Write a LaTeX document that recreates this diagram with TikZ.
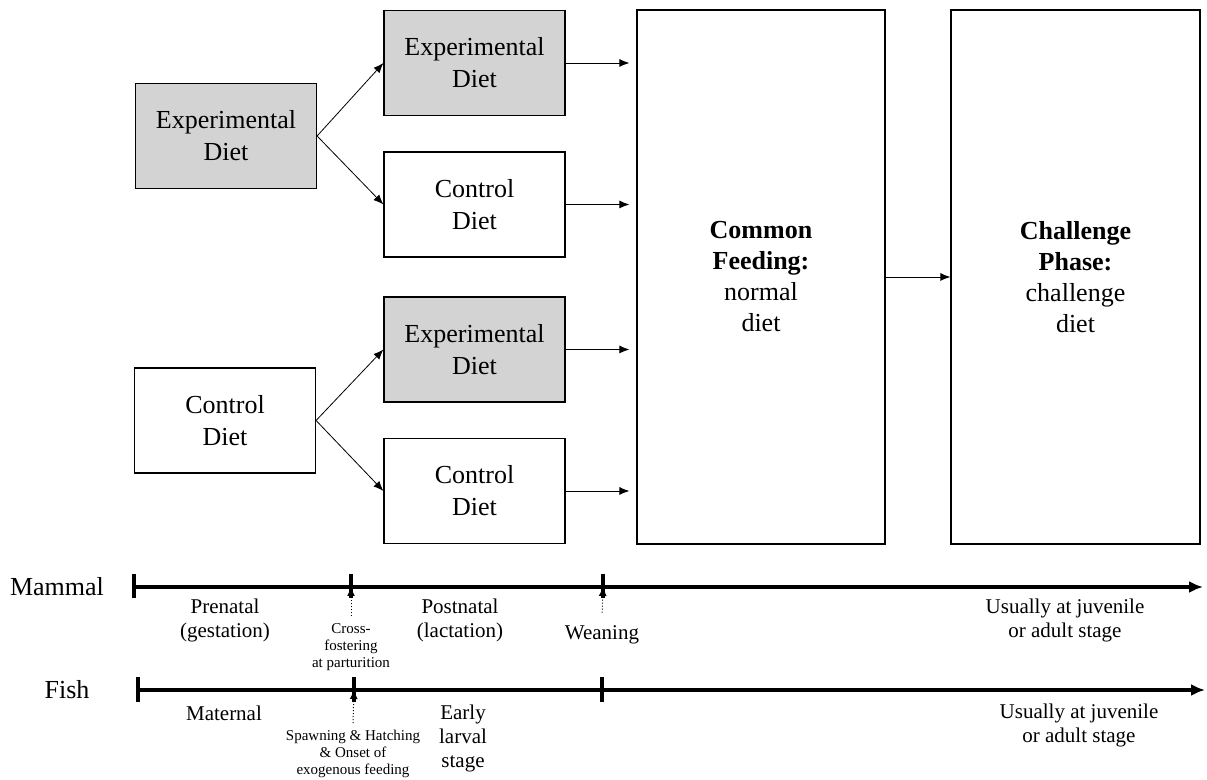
\documentclass[tikz,border=0pt]{standalone}
\usepackage{fontspec}
\setmainfont{Liberation Serif}
\usetikzlibrary{arrows.meta, positioning, calc}
\definecolor{DietGray}{HTML}{D3D3D3}

\begin{document}
\begin{tikzpicture}[x=0.5pt, y=-0.5pt, >={Latex[length=5pt,width=4pt]},
  dietbox/.style={draw, line width=0.6pt, minimum width=90.5pt, minimum height=52.5pt,
    inner sep=0pt, align=center, font=\fontsize{13}{16}\selectfont},
  expbox/.style={dietbox, fill=DietGray},
  phasebox/.style={draw, line width=0.6pt, minimum width=124pt, minimum height=267pt,
    align=center, font=\fontsize{13}{15.5}\selectfont},
  timeline/.style={line width=1.6pt, -{Latex[length=7pt,width=6pt]}},
  tickmark/.style={line width=1.6pt},
  eventarrow/.style={densely dotted, line width=0.5pt, -{Latex[length=4.5pt,width=4pt]}},
  species/.style={font=\fontsize{13}{16}\selectfont},
  stagelabel/.style={align=center, font=\fontsize{10.5}{12}\selectfont},
  eventlabel/.style={align=center, font=\fontsize{7.5}{8.5}\selectfont}]
  \useasboundingbox (0,0) rectangle (1207,780);

  % Maternal diets
  \node[expbox] (damexp) at (226,136) {Experimental\\Diet};
  \node[dietbox] (damctl) at (225,420.5) {Control\\Diet};
  % Offspring diets after cross-fostering
  \node[expbox] (pupexpA) at (474.5,63) {Experimental\\Diet};
  \node[dietbox] (pupctlA) at (474.5,204.5) {Control\\Diet};
  \node[expbox] (pupexpB) at (474.5,349.5) {Experimental\\Diet};
  \node[dietbox] (pupctlB) at (474.5,491) {Control\\Diet};
  % Later phases
  \node[phasebox] (common) at (761,277) {\textbf{Common}\\\textbf{Feeding:}\\normal\\diet};
  \node[phasebox, minimum width=124.5pt] (challenge) at (1075.5,277)
    {\textbf{Challenge}\\\textbf{Phase:}\\challenge\\diet};

  % Connectors
  \draw[->] (damexp.east) -- (pupexpA.west);
  \draw[->] (damexp.east) -- (pupctlA.west);
  \draw[->] (damctl.east) -- (pupexpB.west);
  \draw[->] (damctl.east) -- (pupctlB.west);
  \foreach \n in {pupexpA, pupctlA, pupexpB, pupctlB}
    \draw[->, shorten >=3.5pt] (\n.east) -- (\n.east -| common.west);
  \draw[->] (common.east) -- (challenge.west);

  % Mammal timeline
  \node[species] (mammal) at (57,587) {Mammal};
  \coordinate (mstart) at (134,587);
  \coordinate (mend) at (1203,587);
  \coordinate (mcross) at (351,587);
  \coordinate (mwean) at (603,587);
  \draw[timeline] (mstart) -- (mend);
  \foreach \x in {134,351,603}
    \draw[tickmark] (\x,574) -- (\x,598);
  \node[stagelabel] (prenatal) at (225,620) {Prenatal\\(gestation)};
  \node[eventlabel] (crossfoster) at (351,647) {Cross-\\fostering\\at parturition};
  \node[stagelabel] (postnatal) at (460,620) {Postnatal\\(lactation)};
  \node[stagelabel] (weaning) at (602,635) {Weaning};
  \node[stagelabel] (mjuvenile) at (1065,620) {Usually at juvenile\\or adult stage};
  \draw[eventarrow] (crossfoster.north) -- (mcross);
  \draw[eventarrow, shorten <=3pt] (weaning.north) -- (mwean);

  % Fish timeline
  \node[species] (fish) at (67,690) {Fish};
  \coordinate (fstart) at (138,690);
  \coordinate (fend) at (1205,690);
  \coordinate (fhatch) at (354,690);
  \draw[timeline] (fstart) -- (fend);
  \foreach \x in {138,354,602}
    \draw[tickmark] (\x,677) -- (\x,702);
  \node[stagelabel] (maternal) at (224,713) {Maternal};
  \node[eventlabel] (spawning) at (353,754) {Spawning \& Hatching\\\& Onset of\\exogenous feeding};
  \node[stagelabel] (larval) at (463,738) {Early\\larval\\stage};
  \node[stagelabel] (fjuvenile) at (1079,725) {Usually at juvenile\\or adult stage};
  \draw[eventarrow] (spawning.north) -- (fhatch);
\end{tikzpicture}
\end{document}
